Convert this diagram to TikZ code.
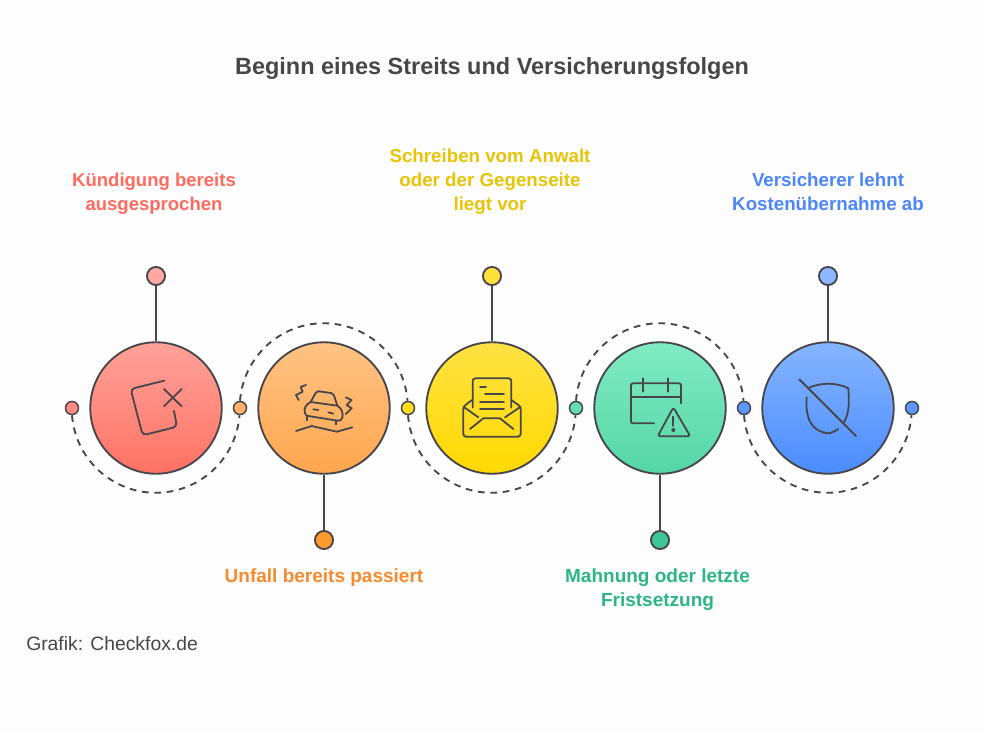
\documentclass[tikz,border=0pt]{standalone}
\usepackage{fontspec}
\setmainfont{Liberation Sans}
\definecolor{ink}{HTML}{47464B}
\definecolor{bgc}{HTML}{FEFDFE}
\definecolor{tred}{HTML}{FF6B5E}
\definecolor{torange}{HTML}{F58B2E}
\definecolor{tyellow}{HTML}{E8C406}
\definecolor{tgreen}{HTML}{2DB583}
\definecolor{tblue}{HTML}{4B87FA}
\definecolor{ra}{HTML}{FFA29A}\definecolor{rb}{HTML}{FF7264}
\definecolor{oa}{HTML}{FFC384}\definecolor{ob}{HTML}{FFA64E}
\definecolor{ya}{HTML}{FFE244}\definecolor{yb}{HTML}{FFD900}
\definecolor{ga}{HTML}{80EBC2}\definecolor{gb}{HTML}{55D6A6}
\definecolor{ba}{HTML}{86B5FF}\definecolor{bb}{HTML}{4A8CFF}
\definecolor{dta}{HTML}{FFA8A3}\definecolor{dtb}{HTML}{FF9A2E}\definecolor{dtc}{HTML}{FFE13D}\definecolor{dtd}{HTML}{3CC794}\definecolor{dte}{HTML}{8DB8FF}
\definecolor{dsa}{HTML}{FF8A80}\definecolor{dsb}{HTML}{FFB266}\definecolor{dsc}{HTML}{FFDD1F}\definecolor{dsd}{HTML}{66DDB0}\definecolor{dse}{HTML}{5C98FF}
\tikzset{
  mainc/.style n args={2}{circle,draw=ink,line width=1.4pt,minimum size=98.6pt,inner sep=0pt,top color=#1,bottom color=#2},
  topdot/.style={circle,draw=ink,line width=1.4pt,minimum size=13.6pt,inner sep=0pt,fill=#1},
  sidedot/.style={circle,draw=ink,line width=1.1pt,minimum size=9.8pt,inner sep=0pt,fill=#1},
  stem/.style={draw=ink,line width=1.8pt},
  dasharc/.style={draw=ink,line width=1.4pt,dash pattern=on 5pt off 4.3pt},
  iconline/.style={draw=ink,line width=1.35pt,line cap=round,line join=round},
  lab/.style={font=\fontsize{14.05pt}{18pt}\selectfont\bfseries,align=center,text=#1,inner sep=0pt},
  labw/.style={font=\fontsize{14.25pt}{18pt}\selectfont\bfseries,align=center,text=#1,inner sep=0pt},
  labn/.style={font=\fontsize{13.9pt}{18pt}\selectfont\bfseries,align=center,text=#1,inner sep=0pt},
}
\newcommand{\iconat}[3]{\begin{scope}[shift={(#1,#2)},x=0.25pt,y=-0.25pt,iconline]#3\end{scope}}
\begin{document}
\begin{tikzpicture}[x=0.75pt,y=-0.75pt]
\useasboundingbox[fill=bgc] (0,0) rectangle (984,732);
\node[font=\fontsize{17.6pt}{21pt}\selectfont\bfseries,text=ink,inner sep=0pt] (title) at (492,68) {Beginn eines Streits und Versicherungsfolgen};
\node[font=\fontsize{14.5pt}{18pt}\selectfont,text=ink,inner sep=0pt,anchor=west] (credit) at (26,644) {Grafik: Checkfox.de};

\node[labn=tred] (l1) at (154,194) {Kündigung bereits\\ausgesprochen};
\node[lab=tyellow] (l3) at (490,182) {Schreiben vom Anwalt\\oder der Gegenseite\\liegt vor};
\node[lab=tblue] (l5) at (828,192) {Versicherer lehnt\\Kostenübernahme ab};
\node[labw=torange] (l2) at (324,578) {Unfall bereits passiert};
\node[labw=tgreen] (l4) at (657.5,590) {Mahnung oder letzte\\Fristsetzung};

\node[mainc={ra}{rb}] (c1) at (156,408) {};
\node[mainc={oa}{ob}] (c2) at (324,408) {};
\node[mainc={ya}{yb}] (c3) at (492,408) {};
\node[mainc={ga}{gb}] (c4) at (660,408) {};
\node[mainc={ba}{bb}] (c5) at (828,408) {};

\node[topdot=dta] (t1) at (156,276) {};
\node[topdot=dtb] (t2) at (324,540) {};
\node[topdot=dtc] (t3) at (492,276) {};
\node[topdot=dtd] (t4) at (660,540) {};
\node[topdot=dte] (t5) at (828,276) {};
\draw[stem] (t1) -- (c1);
\draw[stem] (t2) -- (c2);
\draw[stem] (t3) -- (c3);
\draw[stem] (t4) -- (c4);
\draw[stem] (t5) -- (c5);

\node[sidedot=dsa] (s1) at (72,408) {};
\node[sidedot=dsb] (s2) at (240,408) {};
\node[sidedot=dsc] (s3) at (408,408) {};
\node[sidedot=dsd] (s4) at (576,408) {};
\node[sidedot=dse] (s5) at (744,408) {};
\node[sidedot=dse] (s6) at (912,408) {};
\draw[dasharc] (s1.south) arc[start angle=184.44,end angle=355.56,radius=63pt];
\draw[dasharc] (s2.north) arc[start angle=175.56,end angle=4.44,radius=63pt];
\draw[dasharc] (s3.south) arc[start angle=184.44,end angle=355.56,radius=63pt];
\draw[dasharc] (s4.north) arc[start angle=175.56,end angle=4.44,radius=63pt];
\draw[dasharc] (s5.south) arc[start angle=184.44,end angle=355.56,radius=63pt];

% icon 1
\iconat{110}{365}{
 \draw[rounded corners=3pt] (163,47) -- (62,72) -- (98,211) -- (201,185) -- (192,138);
 \draw (162,72) -- (215,124) (215,72) -- (162,124);
}
% icon 2
\iconat{280}{365}{
 \draw (78,60) -- (62,66) -- (68,80) -- (48,90) -- (56,105);
 \draw (197,97) -- (215,105) -- (200,120) -- (215,130) -- (197,147);
 \draw[rounded corners=1.5pt] (92,111) -- (110,78) -- (160,85) -- (172,122);
 \draw (92,111) -- (172,122);
 \draw (92,111) .. controls (78,118) and (70,130) .. (75,145) .. controls (77,151) and (80,152) .. (85,153) -- (172,167) .. controls (180,168) and (185,166) .. (187,158) .. controls (190,145) and (186,130) .. (172,122);
 \draw (100,133) -- (115,135) (145,142) -- (160,146);
 \draw (82,153) -- (82,166) (167,166) -- (167,178);
 \draw (48,198) -- (95,183) -- (170,200) -- (217,187);
}
% icon 3
\iconat{450}{365}{
 \draw[rounded corners=2pt] (68,128) -- (68,40) -- (184,40) -- (184,128);
 \draw (90,65) -- (108,65) (105,87) -- (162,87) (90,110) -- (162,110) (90,132) -- (162,132);
 \draw[rounded corners=2pt] (66,105) -- (40,125) -- (40,215) -- (212,215) -- (212,125) -- (184,105);
 \draw (40,125) -- (85,157) (212,125) -- (165,157);
 \draw (60,192) -- (100,160) -- (150,160) -- (190,192);
}
% icon 4
\iconat{620}{365}{
 \draw[rounded corners=1.5pt] (102,175) -- (33,175) -- (33,55) -- (183,55) -- (183,115);
 \draw (33,95) -- (183,95) (70,40) -- (70,80) (145,40) -- (145,80);
 \draw[rounded corners=2pt] (160,127) -- (211,214) -- (113,214) -- cycle;
 \draw (160,155) -- (160,183);
 \fill[ink] (160,195) circle[radius=1.5pt];
}
% icon 5
\iconat{785}{365}{
 \draw (43,43) -- (213,213);
 \draw (72,68) .. controls (110,52) and (155,52) .. (190,70) .. controls (192,105) and (195,145) .. (175,175);
 \draw (65,97) .. controls (60,160) and (80,200) .. (130,205) .. controls (140,204) and (150,198) .. (160,192);
}
\end{tikzpicture}
\end{document}
